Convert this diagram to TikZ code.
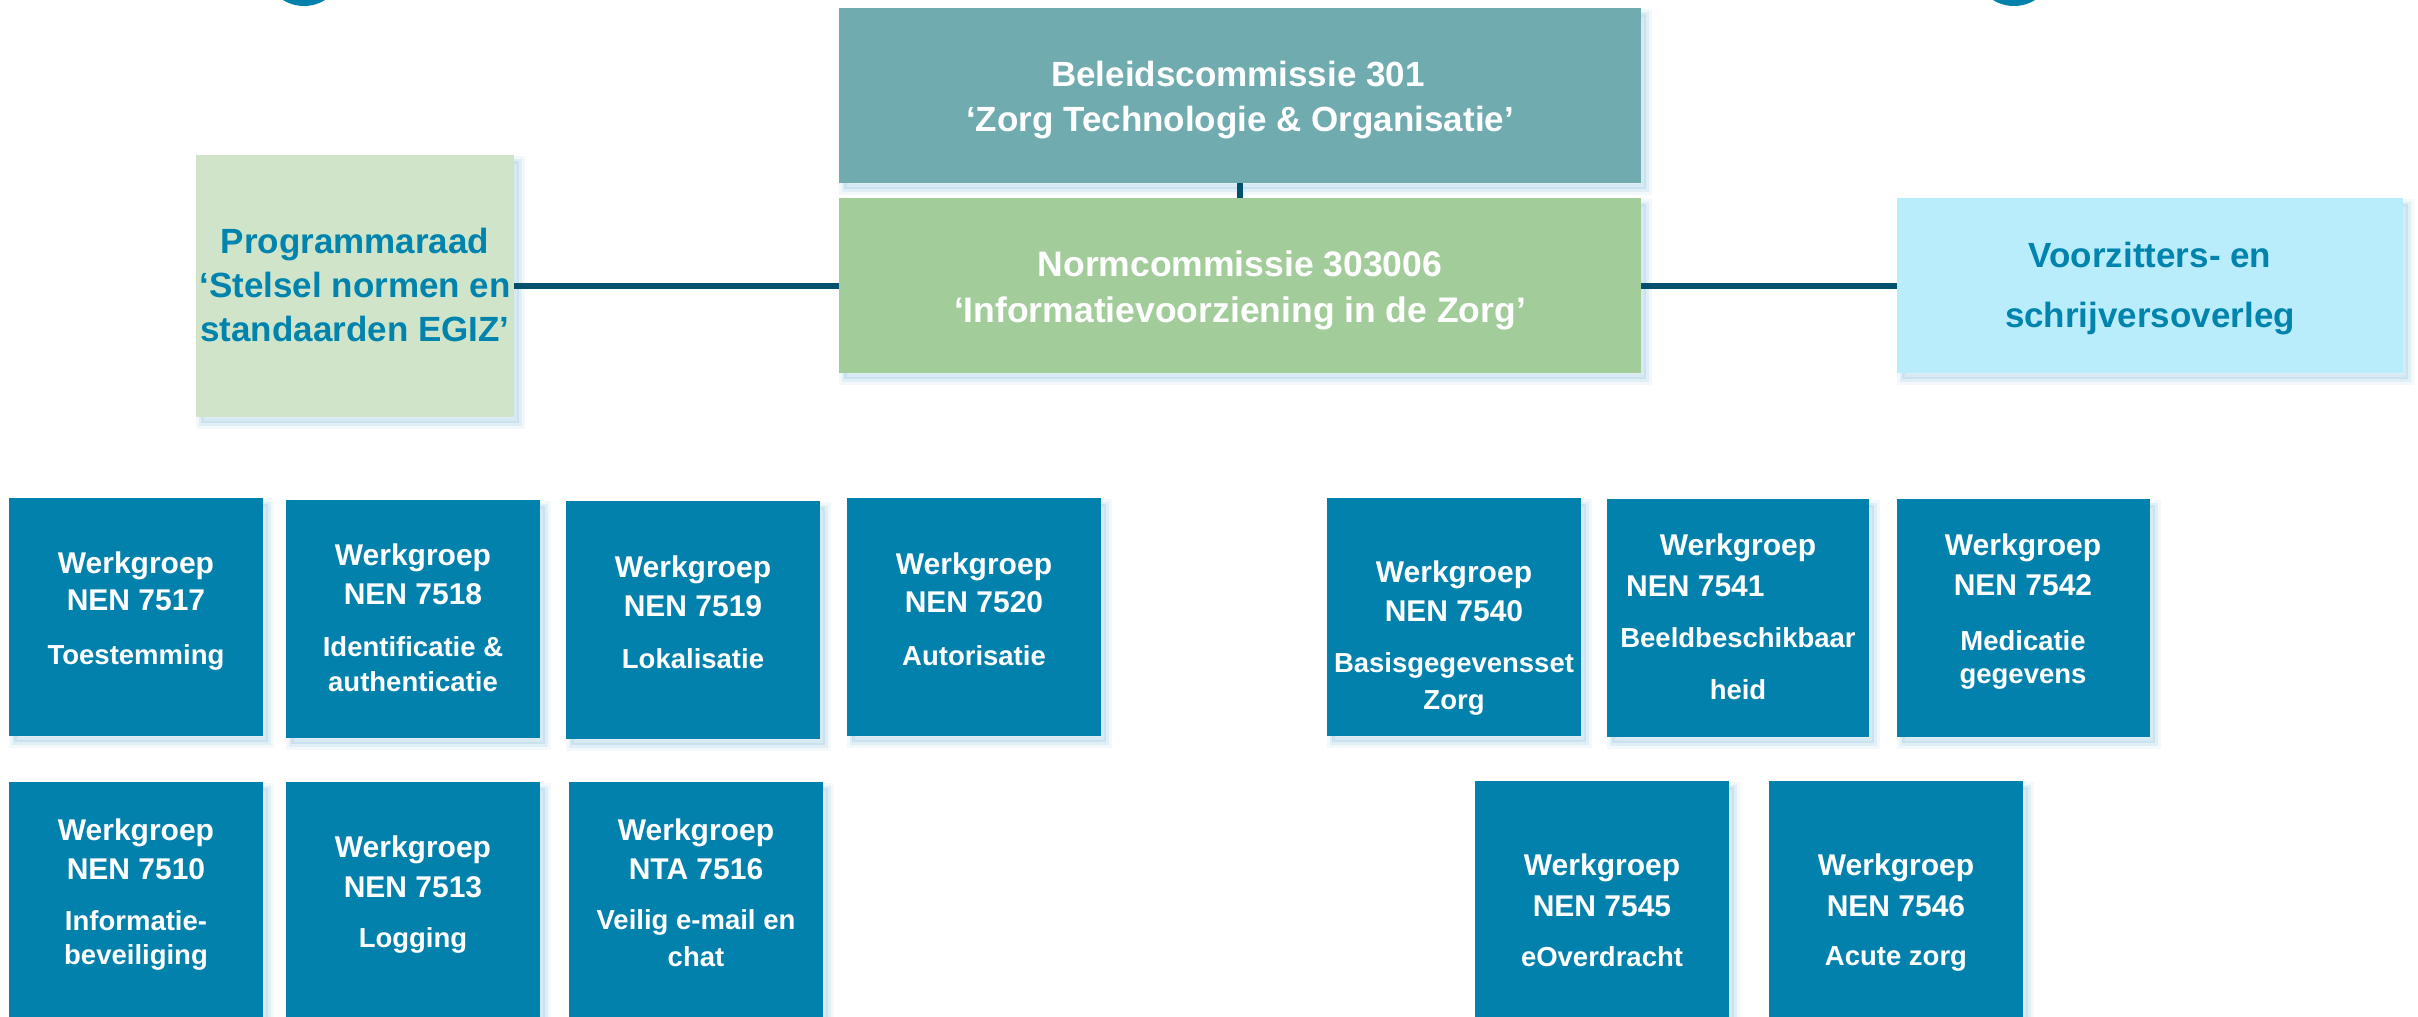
\documentclass[tikz,border=0pt]{standalone}
\usepackage{fontspec}
\setmainfont{Liberation Sans}
\usetikzlibrary{shadows}
\definecolor{wgc}{RGB}{3,129,173}
\definecolor{belc}{RGB}{112,171,176}
\definecolor{normc}{RGB}{162,205,154}
\definecolor{progc}{RGB}{207,228,201}
\definecolor{voorc}{RGB}{186,237,252}
\definecolor{bluetxt}{RGB}{0,131,173}
\definecolor{linec}{RGB}{0,80,110}
\definecolor{shadowc}{RGB}{140,195,220}
\newcommand\wgfontA{\fontsize{30}{36}\selectfont\bfseries}
\newcommand\wgfontB{\fontsize{27.5}{33}\selectfont\bfseries}
\newcommand\hdfontA{\fontsize{35}{42}\selectfont\bfseries}
\newcommand\hdfontB{\fontsize{35.5}{42}\selectfont\bfseries}
\newcommand\sdfont{\fontsize{35}{42}\selectfont\bfseries}
\begin{document}
\begin{tikzpicture}[x=1pt,y=-1pt,
  sh/.style={drop shadow={shadow xshift=5pt, shadow yshift=-6pt, fill=shadowc, draw=shadowc, line width=11pt, opacity=0.10},
             drop shadow={shadow xshift=5pt, shadow yshift=-6pt, fill=shadowc, draw=shadowc, line width=5pt, opacity=0.18}},
  boxstyle/.style={sh, inner sep=0pt, outer sep=0pt, anchor=north west},
  wgbox/.style={boxstyle, fill=wgc, minimum width=254pt, minimum height=238pt},
  wt/.style={inner sep=0pt, text=white, font=\wgfontA, text height=21pt, text depth=0pt},
  ws/.style={inner sep=0pt, text=white, font=\wgfontB, text height=19.5pt, text depth=0pt},
  htA/.style={inner sep=0pt, text=white, font=\hdfontA, text height=25pt, text depth=0pt},
  htB/.style={inner sep=0pt, text=white, font=\hdfontB, text height=25.4pt, text depth=0pt},
  bt/.style={inner sep=0pt, text=bluetxt, font=\sdfont, text height=25pt, text depth=0pt},
  conn/.style={draw=linec, line width=6pt}
]
\useasboundingbox (0,0) rectangle (2418,1017);
\clip (0,0) rectangle (2418,1017);
\fill[white] (0,0) rectangle (2418,1017);

% partial circles at the top
\node[circle, fill=wgc, minimum size=80pt, inner sep=0pt] (cl) at (304,-34) {};
\node[circle, fill=wgc, minimum size=80pt, inner sep=0pt] (cr) at (2014,-34) {};

% top boxes
\node[boxstyle, fill=belc, minimum width=802pt, minimum height=175pt] (bel) at (839,8) {};
\node[boxstyle, fill=normc, minimum width=802pt, minimum height=175pt] (norm) at (839,198) {};
\node[boxstyle, fill=progc, minimum width=318pt, minimum height=262pt] (prog) at (196,155) {};
\node[boxstyle, fill=voorc, minimum width=506pt, minimum height=175pt] (voor) at (1897,198) {};

% connectors
\draw[conn] (bel.south) -- (norm.north);
\draw[conn] (norm.west) -- (norm.west -| prog.east);
\draw[conn] (norm.east) -- (norm.east -| voor.west);

% texts top
\node[htA] (bel1) at (1238,73.5) {Beleidscommissie 301};
\node[htA] (bel2) at (1240,118.5) {‘Zorg Technologie \& Organisatie’};
\node[htB] (norm1) at (1240,264) {Normcommissie 303006};
\node[htB] (norm2) at (1240,309.5) {‘Informatievoorziening in de Zorg’};
\node[bt] (prog1) at (355,241) {Programmaraad};
\node[bt] (prog2) at (355,285) {‘Stelsel normen en};
\node[bt] (prog3) at (355,329) {standaarden EGIZ’};
\node[bt] (voor1) at (2150,255) {Voorzitters- en};
\node[bt] (voor2) at (2150,315) {schrijversoverleg};

% werkgroep boxes
\node[wgbox] (w7517) at (9,498) {};
\node[wgbox] (w7518) at (286,500) {};
\node[wgbox] (w7519) at (566,501) {};
\node[wgbox] (w7520) at (847,498) {};
\node[wgbox, minimum height=245pt] (w7510) at (9,782) {};
\node[wgbox, minimum height=245pt] (w7513) at (286,782) {};
\node[wgbox, minimum height=245pt] (w7516) at (569,782) {};
\node[wgbox] (w7540) at (1327,498) {};
\node[wgbox, minimum width=262pt] (w7541) at (1607,499) {};
\node[wgbox, minimum width=253pt] (w7542) at (1897,499) {};
\node[wgbox, minimum height=245pt] (w7545) at (1475,781) {};
\node[wgbox, minimum height=245pt] (w7546) at (1769,781) {};

% werkgroep texts
\node[wt] (t7517a) at (136,563) {Werkgroep};
\node[wt] (t7517b) at (136,600) {NEN 7517};
\node[ws] (t7517c) at (136,655) {Toestemming};

\node[wt] (t7518a) at (413,555) {Werkgroep};
\node[wt] (t7518b) at (413,594) {NEN 7518};
\node[ws] (t7518c) at (413,647) {Identificatie \&};
\node[ws] (t7518d) at (413,682) {authenticatie};

\node[wt] (t7519a) at (693,567) {Werkgroep};
\node[wt] (t7519b) at (693,606) {NEN 7519};
\node[ws] (t7519c) at (693,659) {Lokalisatie};

\node[wt] (t7520a) at (974,564) {Werkgroep};
\node[wt] (t7520b) at (974,602) {NEN 7520};
\node[ws] (t7520c) at (974,656) {Autorisatie};

\node[wt] (t7510a) at (136,830) {Werkgroep};
\node[wt] (t7510b) at (136,869) {NEN 7510};
\node[ws] (t7510c) at (136,921) {Informatie-};
\node[ws] (t7510d) at (136,955) {beveiliging};

\node[wt] (t7513a) at (413,847) {Werkgroep};
\node[wt] (t7513b) at (413,887) {NEN 7513};
\node[ws] (t7513c) at (413,938) {Logging};

\node[wt] (t7516a) at (696,830) {Werkgroep};
\node[wt] (t7516b) at (696,869) {NTA 7516};
\node[ws] (t7516c) at (696,920) {Veilig e-mail en};
\node[ws] (t7516d) at (696,957) {chat};

\node[wt] (t7540a) at (1454,572) {Werkgroep};
\node[wt] (t7540b) at (1454,611) {NEN 7540};
\node[ws] (t7540c) at (1454,663) {Basisgegevensset};
\node[ws] (t7540d) at (1454,700) {Zorg};

\node[wt] (t7541a) at (1738,545) {Werkgroep};
\node[wt, anchor=west] (t7541b) at (1626,586) {NEN 7541};
\node[ws] (t7541c) at (1738,638) {Beeldbeschikbaar};
\node[ws] (t7541d) at (1738,690) {heid};

\node[wt] (t7542a) at (2023,545) {Werkgroep};
\node[wt] (t7542b) at (2023,585) {NEN 7542};
\node[ws] (t7542c) at (2023,641) {Medicatie};
\node[ws] (t7542d) at (2023,674) {gegevens};

\node[wt] (t7545a) at (1602,865) {Werkgroep};
\node[wt] (t7545b) at (1602,906) {NEN 7545};
\node[ws] (t7545c) at (1602,957) {eOverdracht};

\node[wt] (t7546a) at (1896,865) {Werkgroep};
\node[wt] (t7546b) at (1896,906) {NEN 7546};
\node[ws] (t7546c) at (1896,956) {Acute zorg};
\end{tikzpicture}
\end{document}
